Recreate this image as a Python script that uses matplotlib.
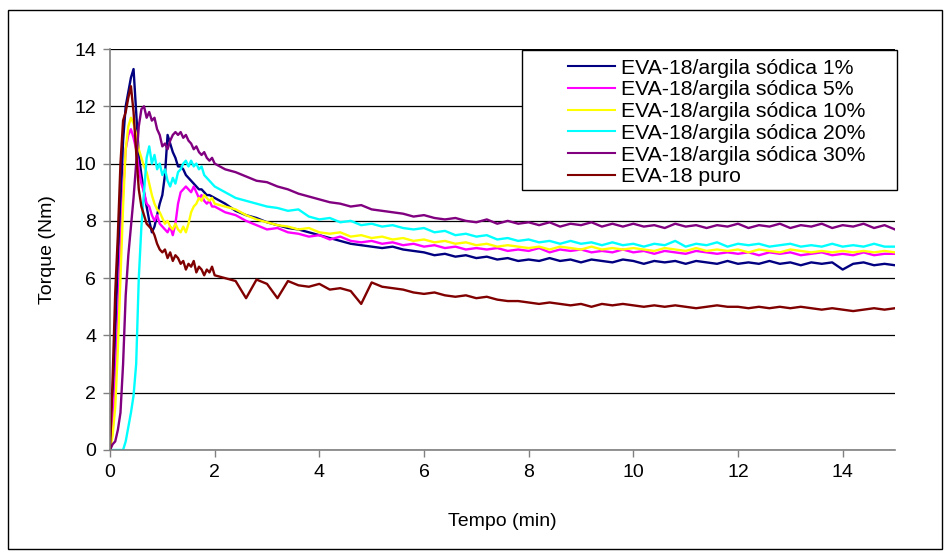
import numpy as np
import matplotlib
matplotlib.use("Agg")
from matplotlib import pyplot as plt
from matplotlib.patches import Rectangle

plt.rcParams['font.family'] = ['Liberation Sans', 'DejaVu Sans']

# time grid (min): fine steps during the mixing peak, coarser afterwards
tempo = list(np.round(np.arange(0, 2.001, 0.05), 2)) + list(np.round(np.arange(2.2, 15.001, 0.2), 2))

labels = ["EVA-18/argila sódica 1%", "EVA-18/argila sódica 5%",
          "EVA-18/argila sódica 10%", "EVA-18/argila sódica 20%",
          "EVA-18/argila sódica 30%", "EVA-18 puro"]
colors = ["#000080", "#FF00FF", "#FFFF00", "#00FFFF", "#800080", "#800000"]

# torque (Nm)
argila_1 = [0, 1.5, 4.0, 6.5, 8.5, 10.8, 12.0, 12.5, 13.0, 13.3, 11.8, 10.3, 9.6, 9.0, 8.5, 8.0,
            7.6, 7.8, 8.2, 8.6, 8.9, 9.6, 11.0, 10.7, 10.4, 10.2, 9.9, 9.9, 9.8, 9.6, 9.5, 9.4,
            9.3, 9.2, 9.1, 9.1, 9.0, 8.9, 8.9, 8.85, 8.8,
            8.6, 8.35, 8.2, 8.1, 7.95, 7.85, 7.75, 7.7, 7.6, 7.5, 7.4, 7.3, 7.2, 7.15, 7.1, 7.05,
            7.1, 7.0, 6.95, 6.9, 6.8, 6.85, 6.75, 6.8, 6.7, 6.75, 6.65, 6.7, 6.6, 6.65, 6.6, 6.7,
            6.6, 6.65, 6.55, 6.65, 6.6, 6.55, 6.65, 6.6, 6.5, 6.6, 6.55, 6.6, 6.5, 6.6, 6.55, 6.5,
            6.6, 6.5, 6.55, 6.5, 6.6, 6.5, 6.55, 6.45, 6.55, 6.5, 6.55, 6.3, 6.5, 6.55, 6.45, 6.5, 6.45]
argila_5 = [0, 1.0, 2.3, 4.5, 7.0, 9.0, 10.5, 11.0, 11.2, 10.9, 10.5, 9.8, 9.3, 9.0, 8.6, 8.5,
            8.2, 8.0, 8.2, 7.9, 7.8, 7.7, 7.6, 7.8, 7.5, 7.9, 8.6, 9.0, 9.1, 9.2, 9.1, 9.0,
            9.2, 9.0, 8.8, 8.9, 8.7, 8.6, 8.7, 8.5, 8.5,
            8.3, 8.2, 8.0, 7.85, 7.7, 7.75, 7.6, 7.55, 7.45, 7.5, 7.35, 7.45, 7.3, 7.25, 7.3, 7.2,
            7.25, 7.15, 7.2, 7.1, 7.15, 7.05, 7.1, 7.0, 7.05, 7.0, 7.05, 6.95, 7.0, 6.95, 7.05, 6.9,
            7.0, 6.95, 7.0, 6.9, 6.95, 6.9, 7.0, 6.9, 6.95, 6.85, 6.95, 6.9, 6.85, 6.95, 6.9, 6.85,
            6.9, 6.85, 6.9, 6.8, 6.9, 6.85, 6.9, 6.8, 6.85, 6.9, 6.8, 6.85, 6.8, 6.9, 6.8, 6.85, 6.85]
argila_10 = [0, 0.5, 1.5, 3.5, 6.0, 8.5, 10.5, 11.3, 11.6, 11.4, 11.0, 10.5, 10.2, 9.9, 9.7, 9.3,
             8.9, 8.6, 8.4, 8.3, 8.1, 7.9, 8.0, 7.8, 7.7, 7.9, 7.7, 7.6, 7.8, 7.6, 7.9, 8.3,
             8.5, 8.6, 8.8, 8.7, 8.9, 8.8, 8.7, 8.8, 8.6,
             8.5, 8.4, 8.2, 8.05, 7.95, 7.85, 7.8, 7.7, 7.75, 7.6, 7.55, 7.6, 7.45, 7.5, 7.4, 7.45,
             7.35, 7.4, 7.3, 7.35, 7.25, 7.3, 7.2, 7.25, 7.15, 7.2, 7.1, 7.15, 7.1, 7.05, 7.1, 7.0,
             7.1, 7.05, 7.0, 7.1, 7.0, 7.05, 7.0, 7.05, 7.0, 6.95, 7.05, 7.0, 6.95, 7.05, 6.95, 7.0,
             6.95, 7.0, 6.9, 7.0, 6.95, 6.9, 7.0, 6.95, 6.9, 6.95, 6.9, 6.95, 6.9, 6.95, 6.9, 6.95, 6.9]
argila_20 = [0, 0, 0, 0, 0, 0, 0.3, 0.8, 1.3, 1.9, 3.0, 6.0, 7.8, 9.0, 10.2, 10.6,
             10.0, 10.3, 9.8, 10.0, 9.6, 9.8, 9.4, 9.2, 9.5, 9.3, 9.7, 9.8, 10.0, 10.1, 9.9, 10.1,
             9.9, 10.0, 9.8, 9.9, 9.6, 9.5, 9.4, 9.3, 9.2,
             9.0, 8.8, 8.7, 8.6, 8.5, 8.45, 8.35, 8.4, 8.15, 8.05, 8.1, 7.95, 8.0, 7.85, 7.9, 7.8,
             7.85, 7.75, 7.7, 7.75, 7.6, 7.65, 7.5, 7.55, 7.45, 7.5, 7.35, 7.4, 7.3, 7.35, 7.25, 7.3,
             7.2, 7.3, 7.2, 7.25, 7.15, 7.25, 7.15, 7.2, 7.1, 7.2, 7.15, 7.3, 7.1, 7.2, 7.15, 7.25,
             7.1, 7.2, 7.15, 7.2, 7.1, 7.15, 7.2, 7.1, 7.15, 7.1, 7.2, 7.1, 7.15, 7.1, 7.2, 7.1, 7.1]
argila_30 = [0, 0.2, 0.3, 0.7, 1.3, 3.0, 5.4, 6.8, 7.8, 8.8, 10.0, 11.3, 11.9, 12.0, 11.6, 11.8,
             11.5, 11.6, 11.2, 11.0, 10.6, 10.7, 10.5, 10.8, 11.0, 11.1, 11.0, 11.1, 10.9, 11.0, 10.8, 10.7,
             10.5, 10.6, 10.4, 10.3, 10.4, 10.2, 10.1, 10.2, 10.0,
             9.8, 9.7, 9.55, 9.4, 9.35, 9.2, 9.1, 8.95, 8.85, 8.75, 8.65, 8.6, 8.5, 8.55, 8.4, 8.35,
             8.3, 8.25, 8.15, 8.2, 8.1, 8.05, 8.1, 8.0, 7.95, 8.05, 7.9, 8.0, 7.9, 7.95, 7.85, 7.95,
             7.8, 7.9, 7.85, 7.95, 7.8, 7.9, 7.8, 7.9, 7.8, 7.85, 7.75, 7.9, 7.8, 7.85, 7.75, 7.85,
             7.8, 7.9, 7.75, 7.85, 7.8, 7.9, 7.75, 7.85, 7.8, 7.9, 7.75, 7.85, 7.8, 7.9, 7.75, 7.85, 7.7]
puro = [0, 2.5, 5.5, 7.5, 10.0, 11.5, 11.8, 12.3, 12.7, 11.8, 10.4, 9.1, 8.5, 8.2, 7.9, 7.8,
        7.7, 7.5, 7.2, 7.0, 6.9, 7.0, 6.7, 6.9, 6.6, 6.8, 6.7, 6.5, 6.6, 6.3, 6.5, 6.4,
        6.6, 6.2, 6.4, 6.3, 6.1, 6.3, 6.2, 6.4, 6.1,
        6.0, 5.9, 5.3, 5.95, 5.8, 5.3, 5.9, 5.75, 5.7, 5.8, 5.6, 5.65, 5.55, 5.1, 5.85, 5.7,
        5.65, 5.6, 5.5, 5.45, 5.5, 5.4, 5.35, 5.4, 5.3, 5.35, 5.25, 5.2, 5.2, 5.15, 5.1, 5.15,
        5.1, 5.05, 5.1, 5.0, 5.1, 5.05, 5.1, 5.05, 5.0, 5.05, 5.0, 5.05, 5.0, 4.95, 5.0, 5.05,
        5.0, 5.0, 4.95, 5.0, 4.95, 5.0, 4.95, 5.0, 4.95, 4.9, 4.95, 4.9, 4.85, 4.9, 4.95, 4.9, 4.95]

series = [argila_1, argila_5, argila_10, argila_20, argila_30, puro]

W, H = 945, 556
fig = plt.figure(figsize=(W / 100, H / 100), dpi=100)
ax = fig.add_axes([110 / W, 1 - 450 / H, 785 / W, 401 / H])

for y, c, l in zip(series, colors, labels):
    ax.plot(tempo, y, '-', color=c, linewidth=1.7, label=l)

ax.set_xlim(0, 15)
ax.set_ylim(0, 14)
ax.set_xticks(range(0, 15, 2))
ax.set_yticks(range(0, 15, 2))
ax.yaxis.grid(True, color='black', linewidth=0.9)
ax.set_axisbelow(True)
for s in ['top', 'right']:
    ax.spines[s].set_visible(False)
for s in ['left', 'bottom']:
    ax.spines[s].set_color('#808080')
    ax.spines[s].set_linewidth(1.2)
ax.tick_params(direction='out', length=5, width=1, color='#808080', labelsize=14, pad=5)
ax.set_xlabel("Tempo (min)", fontsize=14, labelpad=23)
ax.set_ylabel("Torque (Nm)", fontsize=14, labelpad=13)

# legend box drawn separately, Excel style
ax.add_patch(Rectangle((522 / W, 1 - 190 / H), 375 / W, 140 / H,
                       transform=fig.transFigure, clip_on=False, facecolor='white',
                       edgecolor='black', linewidth=1, zorder=4))
leg = ax.legend(loc='upper left', bbox_to_anchor=(557 / W, 1 - 48 / H),
                bbox_transform=fig.transFigure, frameon=False, fontsize=15.3,
                handlelength=2.25, handletextpad=0.25, labelspacing=0.13, borderpad=0)
leg.set_zorder(10)
for h in leg.get_lines():
    h.set_linewidth(1.5)

# outer chart border
fig.patches.append(Rectangle((8 / W, 1 - 549 / H), 934 / W, 539 / H,
                             transform=fig.transFigure, fill=False,
                             edgecolor='black', linewidth=1))

fig.savefig("out.png", dpi=100)
